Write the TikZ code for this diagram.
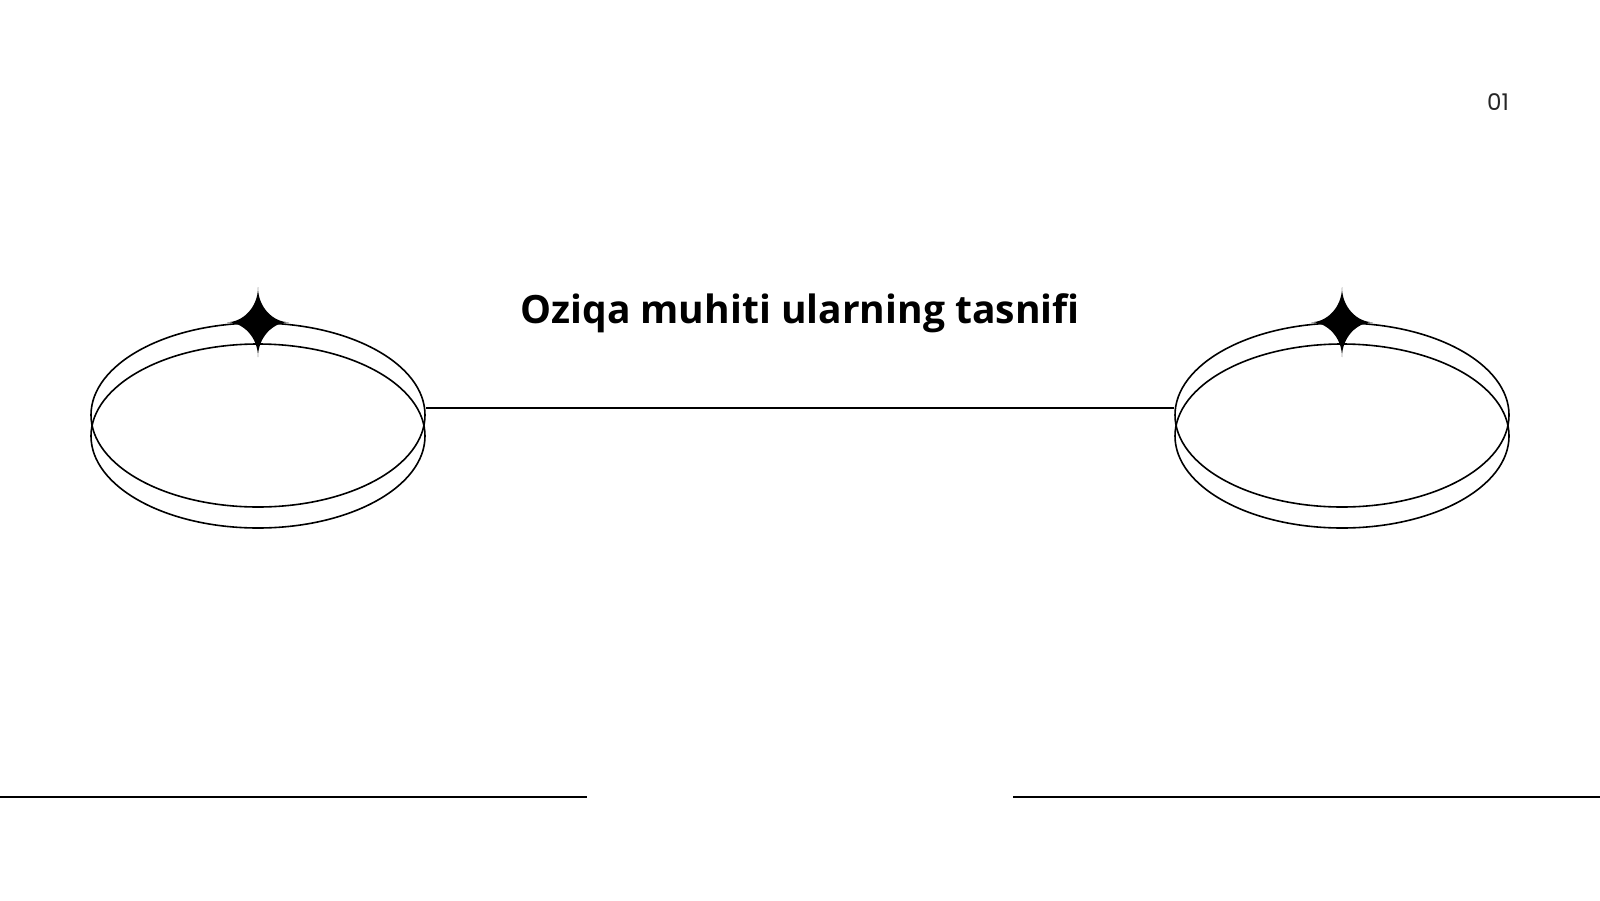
\documentclass[tikz,border=0pt]{standalone}
\usepackage{fontspec}
\setmainfont{Open Sans}
\newfontfamily\numfont{Poppins}
\usetikzlibrary{shapes.geometric,positioning}
\definecolor{pagegray}{HTML}{262626}
\tikzset{
  ring/.style={draw,ellipse,line width=0.8pt,minimum width=167pt,minimum height=92pt,inner sep=0pt},
  rule/.style={line width=0.8pt},
  title/.style={font=\bfseries\fontsize{19.5}{23}\selectfont,anchor=base},
  sparkle/.pic={
    \fill (0,-35) .. controls (0,-15) and (15,0) .. (31,0)
      .. controls (15,0) and (0,15) .. (0,35)
      .. controls (0,15) and (-15,0) .. (-31,0)
      .. controls (-15,0) and (0,-15) .. cycle;
  },
}
\begin{document}
\begin{tikzpicture}[x=0.5pt,y=-0.5pt]
  \useasboundingbox (0,0) rectangle (1600,900);
  \node[ring] (ltop) at (258,415) {};
  \node[ring] (lbot) at ([yshift=-10.5pt]ltop) {};
  \node[ring] (rtop) at (1342,415) {};
  \node[ring] (rbot) at ([yshift=-10.5pt]rtop) {};
  \pic at (ltop.north) {sparkle};
  \pic at (rtop.north) {sparkle};
  \draw[rule] ([yshift=3.5pt]ltop.east) -- ([yshift=3.5pt]rtop.west);
  \node[title] (head) at (800,323) {Oziqa muhiti ularning tasnifi};
  \node[font=\numfont\fontsize{11.5}{13}\selectfont,text=pagegray,anchor=base] (num) at (1498,110) {01};
  \draw[rule] (0,797) -- (587,797);
  \draw[rule] (1013,797) -- (1600,797);
\end{tikzpicture}
\end{document}
